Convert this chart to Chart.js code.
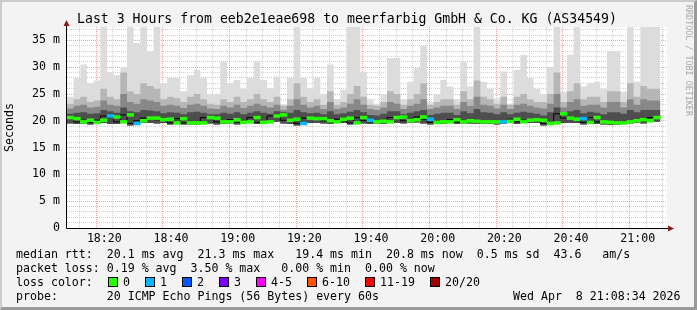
<!DOCTYPE html>
<html>
<head>
<meta charset="utf-8">
<script src="https://cdn.jsdelivr.net/npm/chart.js@4.4.1/dist/chart.umd.min.js"></script>
<style>
  html, body { margin: 0; padding: 0; background: #f3f3f3; }
  #wrap { position: relative; width: 697px; height: 310px; overflow: hidden; background: #f3f3f3; }
  #chart { position: absolute; left: 0; top: 0; }
  #shade { position: absolute; left: 0; top: 0; width: 697px; height: 310px; box-sizing: border-box;
    border-top: 2px solid #cbcbcb; border-left: 2px solid #cbcbcb;
    border-right: 3px solid #9a9a9a; border-bottom: 3px solid #9a9a9a; pointer-events: none; }
  .txt { position: absolute; font-family: "DejaVu Sans Mono", monospace; font-size: 11.6px;
    line-height: 14px; white-space: pre; color: #000; }
  #title { left: 77px; top: 11px; font-size: 13.2px; line-height: 16px; }
  #mark { position: absolute; left: 684px; top: 5px; font-family: "DejaVu Sans Mono", monospace;
    font-size: 8.4px; color: #a8a8a8; writing-mode: vertical-rl; white-space: pre; }
  .box { position: absolute; width: 8px; height: 8px; border: 1px solid #000; top: 277px; }
</style>
</head>
<body>
<div id="wrap">
  <canvas id="chart" width="697" height="310"></canvas>
  <div id="shade"></div>
  <div class="txt" id="title">Last 3 Hours from eeb2e1eae698 to meerfarbig GmbH &amp; Co. KG (AS34549)</div>
  <div id="mark">RRDTOOL / TOBI OETIKER</div>
  <div class="txt" style="left:16px;top:247px">median rtt:  20.1 ms avg  21.3 ms max   19.4 ms min  20.8 ms now  0.5 ms sd  43.6   am/s</div>
  <div class="txt" style="left:16px;top:261px">packet loss: 0.19 % avg  3.50 % max   0.00 % min  0.00 % now</div>
  <div class="txt" style="left:16px;top:275px">loss color:</div>
  <div id="lossLegend"></div>
  <div class="txt" style="left:16px;top:289px">probe:       20 ICMP Echo Pings (56 Bytes) every 60s</div>
  <div class="txt" style="left:513px;top:289px">Wed Apr  8 21:08:34 2026</div>
</div>
<script>
// time axis (minutes since midnight), one column every 2 minutes
const startMinute = 18 * 60 + 8.8;
const stepMinutes = 2;
const axisMinutes = 180;

// median rtt per column (ms)
const medianRtt = [
  20.6, 20.4, 19.8, 20.1, 19.7, 20.1, 20.9, 20.7, 19.8, 21.1, 19.5, 20.0, 20.5, 20.5, 20.2, 20.3, 19.6, 20.4, 19.6, 19.6, 19.6, 20.6, 20.5,
  19.8, 19.8, 20.2, 19.7, 19.8, 20.6, 19.7, 19.8, 20.9, 21.1, 20.1, 20.3, 19.5, 20.5, 20.4, 20.4, 20.0, 19.8, 20.3, 20.5, 19.6, 20.6,
  20.1, 19.8, 19.9, 19.8, 20.6, 20.7, 20.0, 20.2, 20.7, 20.3, 19.7, 19.8, 19.8, 20.2, 19.8, 20.0, 19.9, 19.8, 19.8, 19.8, 19.8, 19.9,
  20.3, 19.8, 20.1, 20.2, 20.1, 19.5, 19.6, 21.3, 20.5, 20.3, 20.4, 19.7, 20.6, 19.8, 19.7, 19.6, 19.6, 19.8, 20.0, 20.2, 20.0, 20.6
];
// loss colour band per column (index into lossLabels)
const lossBand = [
  0, 0, 0, 0, 0, 0, 1, 0, 0, 0, 1, 0, 0, 0, 0, 0, 0, 0, 0, 0, 0, 0, 0,
  0, 0, 0, 0, 0, 0, 0, 0, 0, 0, 0, 0, 1, 0, 0, 0, 0, 0, 0, 0, 0, 0,
  1, 0, 0, 0, 0, 0, 0, 0, 0, 1, 0, 0, 0, 0, 0, 0, 0, 0, 0, 0, 1, 0,
  0, 0, 0, 0, 0, 0, 0, 0, 0, 0, 1, 0, 0, 0, 0, 0, 0, 0, 0, 0, 0, 0
];
// smoke: sorted ping rtt levels per column (ms)
const pingMin = [
  19.6, 19.5, 19.4, 19.5, 19.3, 19.5, 19.6, 19.4, 19.4, 19.7, 19.1, 19.5, 19.6, 19.6, 19.5, 19.6, 19.3, 19.5, 19.3, 19.3, 19.3, 19.6, 19.5,
  19.3, 19.4, 19.5, 19.3, 19.4, 19.6, 19.4, 19.4, 19.7, 19.8, 19.5, 19.4, 19.1, 19.6, 19.6, 19.6, 19.5, 19.4, 19.6, 19.6, 19.3, 19.6,
  19.5, 19.4, 19.5, 19.4, 19.6, 19.6, 19.5, 19.6, 19.7, 19.5, 19.3, 19.4, 19.4, 19.6, 19.4, 19.5, 19.5, 19.4, 19.4, 19.4, 19.3, 19.5,
  19.6, 19.4, 19.6, 19.6, 19.6, 19.1, 19.2, 19.8, 19.6, 19.6, 19.6, 19.3, 19.6, 19.4, 19.3, 19.2, 19.2, 19.4, 19.5, 19.6, 19.5, 19.8
];
const pingLow = [
  21.2, 21.3, 21.5, 21.6, 21.3, 21.4, 22.0, 21.8, 21.5, 22.5, 21.8, 21.6, 22.0, 21.9, 21.8, 21.4, 21.6, 21.5, 21.2, 21.6, 21.7, 21.5, 21.2,
  21.2, 21.5, 21.3, 21.6, 21.2, 21.5, 21.8, 21.5, 21.3, 21.8, 21.6, 21.5, 22.0, 21.6, 21.4, 21.5, 21.2, 21.8, 21.2, 21.4, 21.7, 22.0,
  21.6, 21.1, 21.0, 21.3, 21.8, 21.8, 21.2, 21.5, 21.8, 22.0, 21.1, 21.3, 21.5, 21.5, 21.1, 21.8, 21.4, 22.2, 21.6, 21.5, 21.2, 21.6,
  21.2, 21.5, 21.7, 21.5, 21.3, 21.0, 21.6, 22.5, 21.5, 21.8, 22.0, 21.4, 21.7, 21.5, 21.2, 21.6, 21.6, 21.3, 22.0, 21.6, 22.0, 22.0
];
const pingMid = [
  22.0, 22.3, 22.8, 23.0, 22.5, 22.6, 23.8, 23.0, 22.8, 25.0, 23.5, 23.2, 24.0, 23.8, 23.5, 22.8, 23.0, 22.8, 22.4, 23.0, 23.2, 22.8, 22.3,
  22.2, 22.8, 22.5, 23.0, 22.4, 22.8, 23.2, 22.8, 22.5, 23.0, 22.0, 22.8, 24.0, 23.0, 22.5, 22.8, 22.2, 23.5, 22.2, 22.5, 23.2, 24.0,
  23.0, 22.2, 22.0, 22.5, 23.5, 23.2, 22.2, 22.8, 23.2, 24.0, 22.2, 22.5, 22.8, 22.8, 22.2, 23.5, 22.8, 24.5, 23.0, 22.8, 22.3, 23.0,
  22.2, 23.0, 23.2, 22.8, 22.5, 22.3, 23.2, 25.0, 22.5, 23.5, 24.0, 22.8, 23.0, 23.0, 22.5, 23.5, 23.5, 22.5, 24.0, 23.0, 24.0, 23.8
];
const pingHigh = [
  22.8, 23.2, 24.0, 24.5, 23.5, 23.8, 26.0, 24.5, 24.0, 29.0, 25.5, 25.0, 27.0, 26.5, 26.0, 24.0, 24.5, 24.2, 23.5, 24.5, 25.0, 24.0, 23.2,
  23.0, 24.0, 23.5, 24.5, 23.5, 24.0, 25.0, 24.0, 23.5, 24.5, 22.8, 24.0, 27.0, 24.5, 23.5, 24.0, 23.0, 25.5, 23.0, 23.5, 25.0, 26.5,
  24.5, 23.0, 22.8, 23.5, 25.5, 25.0, 23.0, 24.0, 25.0, 27.0, 23.0, 23.5, 24.0, 24.0, 23.0, 25.5, 24.0, 27.5, 24.5, 24.0, 23.2, 24.5,
  23.0, 24.5, 25.0, 24.0, 23.5, 23.5, 25.0, 29.0, 23.5, 25.5, 27.0, 24.0, 24.5, 24.5, 23.5, 25.5, 25.5, 23.5, 27.0, 24.5, 26.5, 26.0
];
const pingMax = [
  23.0, 24.5, 28.0, 30.5, 27.0, 27.5, 37.5, 29.0, 28.5, 30.0, 37.5, 34.5, 37.5, 33.0, 37.5, 27.0, 28.0, 28.0, 25.5, 28.5, 29.5, 28.0, 25.0,
  25.0, 31.0, 27.0, 27.6, 26.0, 28.0, 31.0, 27.6, 26.0, 28.2, 23.0, 28.0, 37.5, 28.0, 26.0, 28.0, 25.0, 30.5, 24.0, 25.8, 37.5, 37.5,
  29.0, 24.0, 23.2, 25.0, 31.7, 31.7, 24.0, 27.3, 29.8, 34.0, 23.5, 25.0, 27.6, 26.4, 24.0, 31.0, 26.4, 37.5, 27.3, 26.0, 24.2, 29.2,
  23.2, 29.5, 32.3, 28.0, 26.0, 25.0, 30.0, 37.5, 25.4, 32.3, 37.5, 26.4, 27.0, 27.3, 26.0, 33.0, 33.0, 25.4, 37.5, 27.3, 37.5, 37.5
];

// legend
const lossLabels = ['0', '1', '2', '3', '4-5', '6-10', '11-19', '20/20'];
const lossColors = ['#26ff00', '#00b8ff', '#0059ff', '#7e00ff', '#ff00ff', '#ff5500', '#ff0000', '#a10000'];

// y axis range (ms), labelled every 5
const yMax = 37.5;

const monoFont = '"DejaVu Sans Mono", monospace';
const minorGrid = 'rgba(150,150,150,0.45)';
const majorGrid = 'rgba(235,80,80,0.55)';

// build legend boxes
(function buildLossLegend() {
    const holder = document.getElementById('lossLegend');
    let x = 108;
    lossLabels.forEach((label, i) => {
        const box = document.createElement('div');
        box.className = 'box';
        box.style.left = x + 'px';
        box.style.background = lossColors[i];
        holder.appendChild(box);
        const t = document.createElement('div');
        t.className = 'txt';
        t.style.left = (x + 15) + 'px';
        t.style.top = '275px';
        t.textContent = label;
        holder.appendChild(t);
        x += 15 + 7 * label.length + 15;
    });
})();

function steps(arr) {
    const pts = arr.map((v, i) => ({ x: startMinute + i * stepMinutes, y: v }));
    pts.push({ x: startMinute + arr.length * stepMinutes, y: arr[arr.length - 1] });
    return pts;
}

function smoke(arr, color) {
    return {
        type: 'line',
        data: steps(arr),
        stepped: 'after',
        borderWidth: 0,
        pointRadius: 0,
        backgroundColor: color,
        fill: 6
    };
}

function hhmm(v) {
    const h = Math.floor(v / 60);
    const m = Math.round(v - h * 60);
    return h + ':' + String(m).padStart(2, '0');
}

// white canvas + axes with arrows
const plotDecor = {
    id: 'plotDecor',
    beforeDraw(chart) {
        const { ctx, chartArea: a } = chart;
        ctx.save();
        ctx.fillStyle = '#ffffff';
        ctx.fillRect(a.left, a.top, a.right - a.left, a.bottom - a.top);
        ctx.restore();
    },
    afterDraw(chart) {
        const { ctx, chartArea: a } = chart;
        ctx.save();
        ctx.strokeStyle = '#000';
        ctx.lineWidth = 1;
        ctx.beginPath();
        ctx.moveTo(a.left - 0.5, a.bottom + 0.5);
        ctx.lineTo(a.right + 3, a.bottom + 0.5);
        ctx.moveTo(a.left - 0.5, a.bottom + 0.5);
        ctx.lineTo(a.left - 0.5, a.top - 3);
        ctx.stroke();
        ctx.fillStyle = '#8b1a1a';
        ctx.beginPath();
        ctx.moveTo(a.left - 3.5, a.top - 1);
        ctx.lineTo(a.left + 2.5, a.top - 1);
        ctx.lineTo(a.left - 0.5, a.top - 7);
        ctx.closePath();
        ctx.fill();
        ctx.beginPath();
        ctx.moveTo(a.right + 1, a.bottom - 2.5);
        ctx.lineTo(a.right + 1, a.bottom + 3.5);
        ctx.lineTo(a.right + 7, a.bottom + 0.5);
        ctx.closePath();
        ctx.fill();
        ctx.restore();
    }
};

Chart.defaults.font.family = monoFont;
Chart.defaults.font.size = 11.6;
Chart.defaults.color = '#000';

new Chart(document.getElementById('chart').getContext('2d'), {
    type: 'line',
    data: {
        datasets: [
            {
                type: 'bar',
                data: medianRtt.map((v, i) => ({ x: startMinute + (i + 0.5) * stepMinutes, y: [v - 0.27, v + 0.27] })),
                backgroundColor: (c) => lossColors[lossBand[c.dataIndex]] || lossColors[0],
                borderWidth: 0,
                barPercentage: 1,
                categoryPercentage: 1,
                grouped: false
            },
            {
                type: 'line',
                data: steps(medianRtt),
                stepped: 'after',
                borderColor: '#000',
                borderWidth: 1,
                pointRadius: 0,
                fill: false
            },
            smoke(pingLow, '#4e4e4e'),
            smoke(pingMid, '#888888'),
            smoke(pingHigh, '#b6b6b6'),
            smoke(pingMax, '#dcdcdc'),
            {
                type: 'line',
                data: steps(pingMin),
                stepped: 'after',
                borderWidth: 0,
                pointRadius: 0,
                fill: false
            }
        ]
    },
    options: {
        responsive: false,
        animation: false,
        devicePixelRatio: 1,
        layout: { padding: { left: 0, top: 27, right: 30, bottom: 62 } },
        plugins: {
            legend: { display: false },
            tooltip: { enabled: false },
            title: { display: false }
        },
        scales: {
            x: {
                type: 'linear',
                min: startMinute,
                max: startMinute + axisMinutes,
                offset: false,
                z: 1,
                afterBuildTicks(scale) {
                    const ticks = [];
                    for (let v = Math.ceil(scale.min / 5) * 5; v <= scale.max; v += 5) ticks.push({ value: v });
                    scale.ticks = ticks;
                },
                afterFit(scale) { scale.height = 20; },
                ticks: {
                    autoSkip: false,
                    maxRotation: 0,
                    padding: 4,
                    callback: (v) => (v % 20 === 0 ? hhmm(v) : '')
                },
                grid: {
                    drawTicks: false,
                    color: (c) => (c.tick && c.tick.value % 20 === 0 ? majorGrid : minorGrid),
                    lineWidth: 1
                },
                border: { display: false, dash: [1, 1] }
            },
            y: {
                type: 'linear',
                min: 0,
                max: yMax,
                z: 1,
                afterBuildTicks(scale) {
                    const ticks = [];
                    for (let v = 0; v <= scale.max; v += 1) ticks.push({ value: v });
                    scale.ticks = ticks;
                },
                afterFit(scale) { scale.width = 67; },
                ticks: {
                    autoSkip: false,
                    padding: 7,
                    callback: (v) => (v % 5 === 0 ? (v === 0 ? '0' : v + ' m') : '')
                },
                grid: {
                    drawTicks: false,
                    color: (c) => (c.tick && c.tick.value % 5 === 0 ? majorGrid : minorGrid),
                    lineWidth: 1
                },
                border: { display: false, dash: [1, 1] },
                title: {
                    display: true,
                    text: 'Seconds',
                    padding: { top: 3, bottom: 0 },
                    font: { family: monoFont, size: 11.6 }
                }
            }
        }
    },
    plugins: [plotDecor]
});
</script>
</body>
</html>
